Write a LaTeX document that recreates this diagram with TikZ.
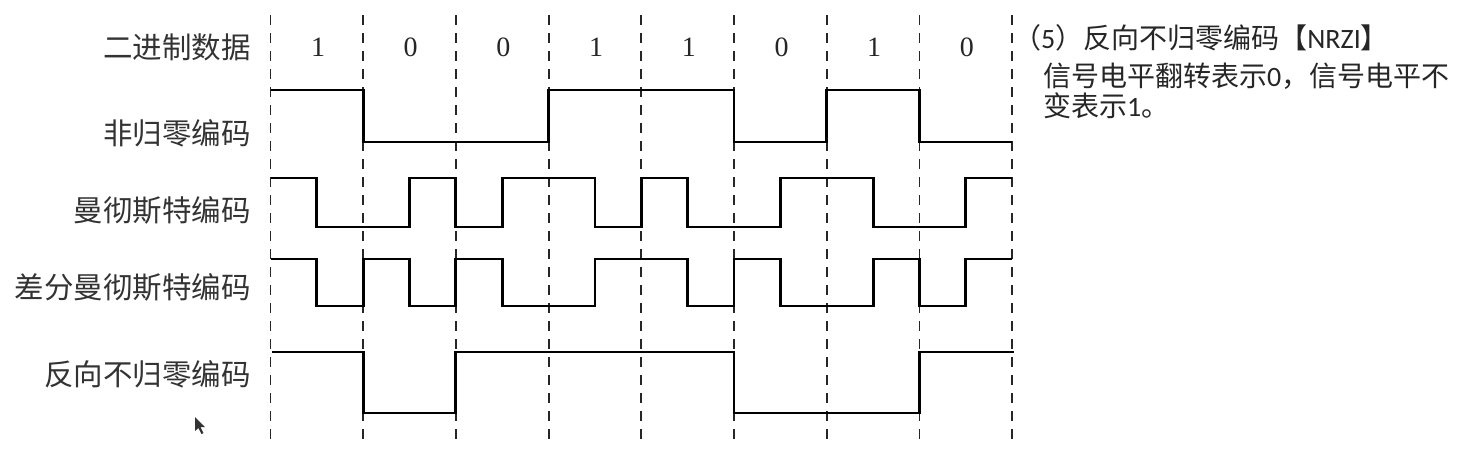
\documentclass[tikz,border=0pt]{standalone}
\usepackage{fontspec}
\setmainfont{Liberation Serif}
\newfontfamily\cjk{Noto Sans CJK SC}
\newfontfamily\lat{Carlito}
\begin{document}
\begin{tikzpicture}[x=1pt,y=-1pt,
  sig/.style={line width=2.9pt, line join=miter},
  gridline/.style={line width=1.8pt, dash pattern=on 10pt off 8pt, black!85},
  lab/.style={anchor=east, inner sep=0pt, text=black!80, font=\cjk\fontsize{29.5}{30}\selectfont},
  bitlab/.style={inner sep=0pt, text=black!85, font=\fontsize{28}{28}\selectfont},
  note/.style={anchor=west, inner sep=0pt, text=black!85, font=\cjk\fontsize{28}{30}\selectfont}]
\useasboundingbox (0,0) rectangle (1471,453);
\fill[white] (0,0) rectangle (1471,453);

% bit boundaries
\foreach \i in {0,...,8}
  \draw[gridline] ({270.5+92.7*\i},15) -- ({270.5+92.7*\i},442);

% row labels
\node[lab] (lbin)  at (251,47)  {二进制数据};
\node[lab] (lnrz)  at (251,133) {非归零编码};
\node[lab] (lman)  at (251,210) {曼彻斯特编码};
\node[lab] (ldman) at (251,287) {差分曼彻斯特编码};
\node[lab] (lnrzi) at (251,374) {反向不归零编码};

% bits
\foreach \b [count=\k from 0] in {1,0,0,1,1,0,1,0}
  \node[bitlab] (bit\k) at ({318+92.7*\k},47) {\b};

% NRZ
\draw[sig] (270.5,90) -- (363.2,90) -- (363.2,142) -- (548.6,142) -- (548.6,90)
  -- (734,90) -- (734,142) -- (826.7,142) -- (826.7,90) -- (919.4,90)
  -- (919.4,142) -- (1012.1,142);

% Manchester
\draw[sig] (270.5,178) -- (316.9,178) -- (316.9,227) -- (409.6,227) -- (409.6,178)
  -- (455.9,178) -- (455.9,227) -- (502.3,227) -- (502.3,178) -- (595,178)
  -- (595,227) -- (641.3,227) -- (641.3,178) -- (687.7,178) -- (687.7,227)
  -- (780.4,227) -- (780.4,178) -- (873.1,178) -- (873.1,227) -- (965.8,227)
  -- (965.8,178) -- (1012.1,178);

% Differential Manchester
\draw[sig] (270.5,259) -- (316.9,259) -- (316.9,306) -- (363.2,306) -- (363.2,259)
  -- (409.6,259) -- (409.6,306) -- (455.9,306) -- (455.9,259) -- (502.3,259)
  -- (502.3,306) -- (595,306) -- (595,259) -- (687.7,259) -- (687.7,306)
  -- (734,306) -- (734,259) -- (780.4,259) -- (780.4,306) -- (873.1,306)
  -- (873.1,259) -- (919.4,259) -- (919.4,306) -- (965.8,306) -- (965.8,259)
  -- (1012.1,259);

% NRZI
\draw[sig] (272,352) -- (363.2,352) -- (363.2,413) -- (455.9,413) -- (455.9,352)
  -- (734,352) -- (734,413) -- (919.4,413) -- (919.4,352) -- (1014,352);

% note
\node[note] (n1) at (1013,38) {（{\lat 5}）反向不归零编码【{\lat NRZI}】};
\node[note] (n2) at (1043,76) {信号电平翻转表示{\lat 0}，信号电平不};
\node[note] (n3) at (1043,106) {变表示{\lat 1}。};

% mouse cursor
\fill[black!80] (195,417) -- (195,431) -- (198.5,428) -- (201.5,434) -- (203.5,433)
  -- (200.5,427) -- (205,427) -- cycle;
\end{tikzpicture}
\end{document}
